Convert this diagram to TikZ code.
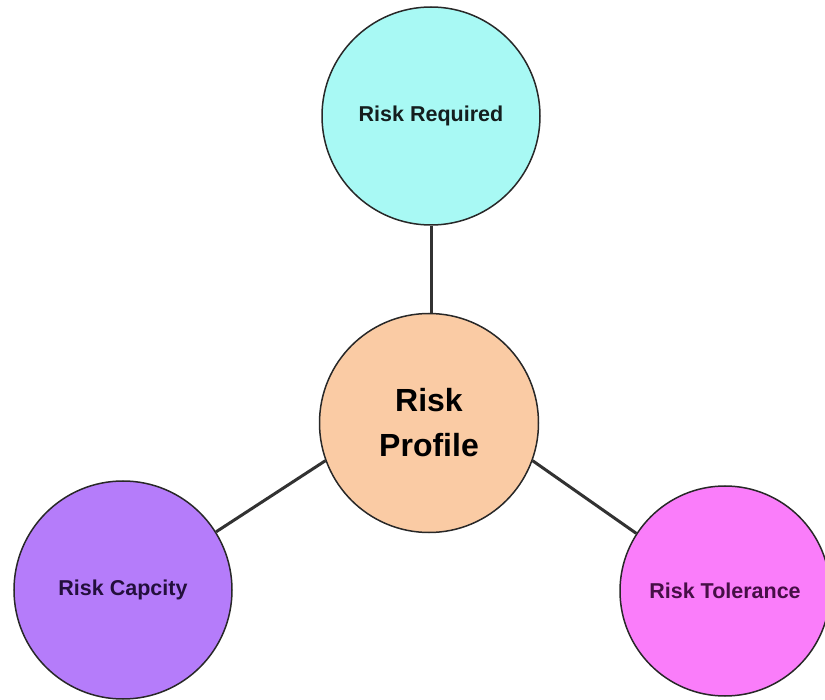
\documentclass[tikz,border=0pt]{standalone}
\usepackage{fontspec}
\setmainfont{Liberation Sans}
\definecolor{reqfill}{RGB}{168,249,244}
\definecolor{proffill}{RGB}{250,203,164}
\definecolor{capfill}{RGB}{181,124,250}
\definecolor{tolfill}{RGB}{250,125,250}
\definecolor{edgecol}{RGB}{40,40,40}
\definecolor{linecol}{RGB}{50,50,50}
\definecolor{reqtext}{RGB}{20,30,30}
\definecolor{captext}{RGB}{35,15,60}
\definecolor{toltext}{RGB}{70,15,70}
\begin{document}
\begin{tikzpicture}[x=1pt,y=1pt,
  bubble/.style={circle,draw=edgecol,line width=1.5pt,inner sep=0pt,align=center,font=\bfseries},
  link/.style={draw=linecol,line width=3pt}]
\useasboundingbox[fill=white] (0,0) rectangle (825,-700);
\node[bubble,fill=reqfill,minimum size=218pt,text=reqtext,font=\bfseries\fontsize{21.5}{26}\selectfont] (req) at (431,-116) {Risk Required};
\node[bubble,fill=proffill,minimum size=219pt,text=black,font=\bfseries\fontsize{32}{45}\selectfont] (prof) at (429,-423) {Risk\\Profile};
\node[bubble,fill=capfill,minimum size=218pt,text=captext,font=\bfseries\fontsize{21.5}{26}\selectfont] (cap) at (123,-590) {Risk Capcity};
\node[bubble,fill=tolfill,minimum size=210pt,text=toltext,font=\bfseries\fontsize{21.5}{26}\selectfont] (tol) at (725,-591) {Risk Tolerance};
\draw[link] (req.south) -- (req.south |- prof.north);
\draw[link] (prof.200) -- (cap.32);
\draw[link] (prof.340) -- (tol.147);
\end{tikzpicture}
\end{document}
